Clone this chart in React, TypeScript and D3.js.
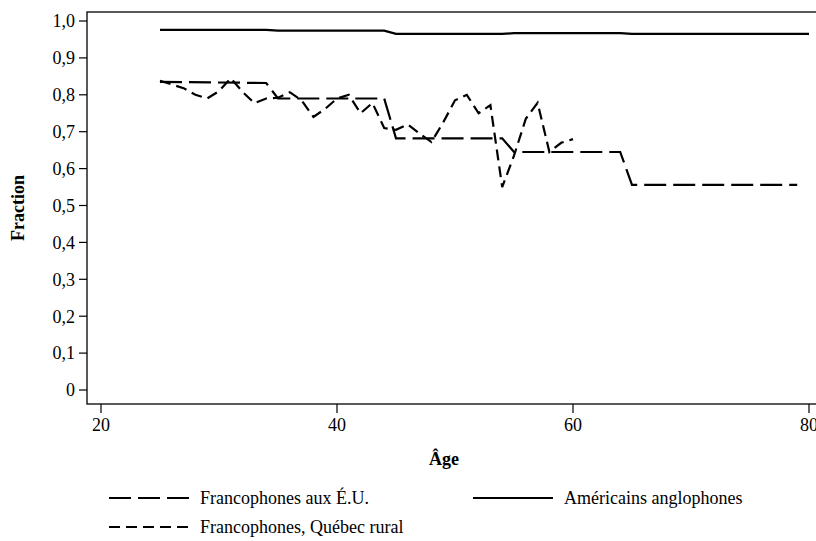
import { useEffect, useRef } from "react";
import * as d3 from "d3";

// Américains anglophones (solid)
const ANGLO_AGES = [25, 34, 35, 44, 45, 54, 55, 64, 65, 80];
const ANGLO_VALUES = [0.976, 0.976, 0.974, 0.974, 0.965, 0.965, 0.967, 0.967, 0.965, 0.965];

// Francophones aux É.U. (long dash)
const EU_AGES = [25, 34, 35, 44, 45, 54, 55, 64, 65, 79];
const EU_VALUES = [0.835, 0.832, 0.79, 0.79, 0.682, 0.682, 0.645, 0.645, 0.556, 0.556];

// Francophones, Québec rural (short dash)
const QC_AGES = [
  25, 26, 27, 28, 29, 30, 31, 32, 33, 34, 35, 36, 37, 38, 39, 40, 41, 42,
  43, 44, 45, 46, 47, 48, 49, 50, 51, 52, 53, 54, 55, 56, 57, 58, 59, 60,
];
const QC_VALUES = [
  0.838, 0.828, 0.818, 0.8, 0.79, 0.81, 0.845, 0.808, 0.777, 0.79, 0.792, 0.807,
  0.785, 0.74, 0.762, 0.79, 0.8, 0.75, 0.778, 0.71, 0.705, 0.72, 0.695, 0.672,
  0.725, 0.785, 0.8, 0.75, 0.772, 0.55, 0.635, 0.735, 0.778, 0.645, 0.67, 0.68,
];

const X_TICKS = [20, 40, 60, 80];
const Y_TICKS = [0, 0.1, 0.2, 0.3, 0.4, 0.5, 0.6, 0.7, 0.8, 0.9, 1.0];

const LEGEND = [
  { label: "Francophones aux É.U.", dash: "22,7", col: 0, row: 0 },
  { label: "Américains anglophones", dash: null, col: 1, row: 0 },
  { label: "Francophones, Québec rural", dash: "11,6", col: 0, row: 1 },
];

const FONT = "'Liberation Serif', 'Times New Roman', serif";

const App = () => {
  const svgRef = useRef<SVGSVGElement>(null);

  useEffect(() => {
    if (!svgRef.current) return;
    const width = 816;
    const height = 541;
    const frame = { left: 87, top: 12, right: 830, bottom: 404 };

    const svg = d3.select(svgRef.current);
    svg.selectAll("*").remove();

    const x = d3.scaleLinear().domain([20, 80]).range([101, 809]);
    const y = d3.scaleLinear().domain([0, 1]).range([390, 21]);

    // Frame
    svg
      .append("rect")
      .attr("x", frame.left)
      .attr("y", frame.top)
      .attr("width", frame.right - frame.left)
      .attr("height", frame.bottom - frame.top)
      .attr("fill", "none")
      .attr("stroke", "#000")
      .attr("stroke-width", 1.3);

    // Y axis ticks
    const yAxis = svg.append("g");
    Y_TICKS.forEach((t) => {
      yAxis
        .append("line")
        .attr("x1", frame.left - 8)
        .attr("x2", frame.left)
        .attr("y1", y(t))
        .attr("y2", y(t))
        .attr("stroke", "#000")
        .attr("stroke-width", 1.2);
      yAxis
        .append("text")
        .attr("x", frame.left - 12)
        .attr("y", y(t))
        .attr("dy", "0.35em")
        .attr("text-anchor", "end")
        .attr("font-family", FONT)
        .attr("font-size", 18)
        .text(t === 0 ? "0" : t.toFixed(1).replace(".", ","));
    });

    // X axis ticks
    const xAxis = svg.append("g");
    X_TICKS.forEach((t) => {
      xAxis
        .append("line")
        .attr("x1", x(t))
        .attr("x2", x(t))
        .attr("y1", frame.bottom)
        .attr("y2", frame.bottom + 9)
        .attr("stroke", "#000")
        .attr("stroke-width", 1.2);
      xAxis
        .append("text")
        .attr("x", x(t))
        .attr("y", 431)
        .attr("text-anchor", "middle")
        .attr("font-family", FONT)
        .attr("font-size", 18)
        .text(t);
    });

    // Axis titles
    svg
      .append("text")
      .attr("x", 444)
      .attr("y", 465)
      .attr("text-anchor", "middle")
      .attr("font-family", FONT)
      .attr("font-weight", "bold")
      .attr("font-size", 18)
      .text("Âge");

    svg
      .append("text")
      .attr("transform", "translate(24,208) rotate(-90)")
      .attr("text-anchor", "middle")
      .attr("font-family", FONT)
      .attr("font-weight", "bold")
      .attr("font-size", 18)
      .text("Fraction");

    // Lines
    const line = d3
      .line<[number, number]>()
      .x((d) => x(d[0]))
      .y((d) => y(d[1]));

    const series = [
      { ages: ANGLO_AGES, values: ANGLO_VALUES, dash: null },
      { ages: EU_AGES, values: EU_VALUES, dash: "22,7" },
      { ages: QC_AGES, values: QC_VALUES, dash: "11,6" },
    ];

    series.forEach((s) => {
      const pts = s.ages.map((a, i) => [a, s.values[i]] as [number, number]);
      svg
        .append("path")
        .attr("d", line(pts))
        .attr("fill", "none")
        .attr("stroke", "#000")
        .attr("stroke-width", 2.2)
        .attr("stroke-dasharray", s.dash)
        .attr("stroke-linejoin", "miter");
    });

    // Legend
    const legend = svg.append("g");
    LEGEND.forEach((l) => {
      const lx = l.col === 0 ? 109 : 473;
      const ly = l.row === 0 ? 498 : 527;
      legend
        .append("line")
        .attr("x1", lx)
        .attr("x2", lx + 80)
        .attr("y1", ly)
        .attr("y2", ly)
        .attr("stroke", "#000")
        .attr("stroke-width", 2.2)
        .attr("stroke-dasharray", l.dash);
      legend
        .append("text")
        .attr("x", lx + 91)
        .attr("y", ly)
        .attr("dy", "0.35em")
        .attr("font-family", FONT)
        .attr("font-size", 18)
        .text(l.label);
    });

    svg.attr("width", width).attr("height", height);
  }, []);

  return (
    <svg
      ref={svgRef}
      width={816}
      height={541}
      style={{ position: "absolute", left: 0, top: 0, display: "block", background: "#fff" }}
    />
  );
};

export default App;
